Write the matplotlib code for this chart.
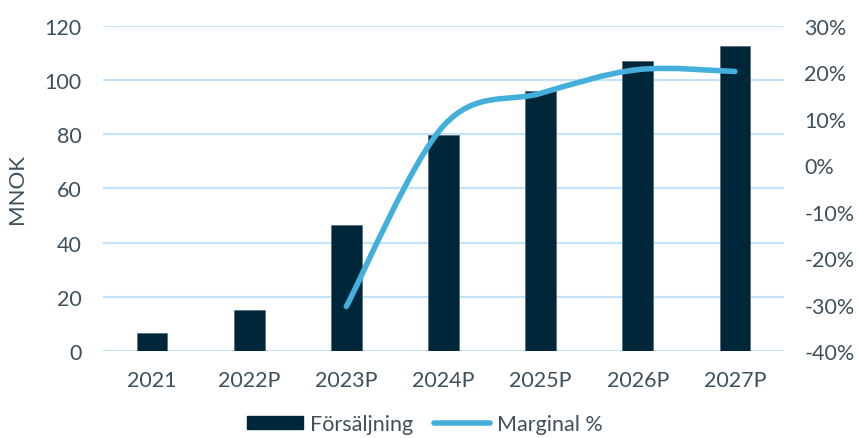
import numpy as np
import matplotlib.pyplot as plt
from matplotlib.path import Path
from matplotlib.patches import PathPatch
from matplotlib.lines import Line2D
from matplotlib.patches import Patch

plt.rcParams['font.family'] = ['Lato', 'DejaVu Sans']

years = ['2021', '2022P', '2023P', '2024P', '2025P', '2026P', '2027P']
sales = [6.6, 15.2, 46.6, 79.8, 95.9, 107.2, 112.7]
margin_years = ['2023P', '2024P', '2025P', '2026P', '2027P']
margin = [-30.4, 8.5, 15.5, 20.6, 20.2]

navy = '#00263a'
blue = '#45afdc'
grid = '#c3e4f6'
txt = '#3e505c'

fig = plt.figure(figsize=(8.58, 4.39), dpi=100)
ax = fig.add_axes([0.1206, 0.1982, 0.7926, 0.7403])
ax2 = ax.twinx()

x = np.arange(len(years))
ax.bar(x, sales, width=0.315, color=navy, edgecolor='#5a6f7c', linewidth=0.6, zorder=3)
ax.set_xlim(-0.5, len(years) - 0.5)
ax.set_ylim(0, 120)
ax.set_yticks(range(0, 121, 20))
ax.set_xticks(x)
ax.set_xticklabels(years)
ax.yaxis.grid(True, color=grid, linewidth=1.6, zorder=0)
ax.set_axisbelow(True)
ax.set_ylabel('MNOK', fontsize=16, color=txt, labelpad=12)

# smoothed line (Catmull-Rom as bezier, like Excel's smoothing)
mx = np.array([years.index(y) for y in margin_years], dtype=float)
my = np.array(margin, dtype=float)
pts = np.column_stack([mx, my])
ext = np.vstack([pts[0], pts, pts[-1]])
verts = [pts[0]]
codes = [Path.MOVETO]
for i in range(1, len(ext) - 2):
    p0, p1, p2, p3 = ext[i - 1], ext[i], ext[i + 1], ext[i + 2]
    verts += [p1 + (p2 - p0) / 6, p2 - (p3 - p1) / 6, p2]
    codes += [Path.CURVE4] * 3
ax2.add_patch(PathPatch(Path(verts, codes), facecolor='none', edgecolor=blue,
                        linewidth=4, capstyle='round', zorder=4))
ax2.set_ylim(-40, 30)
ax2.set_yticks(range(-40, 31, 10))
ax2.set_yticklabels([f'{v}%' for v in range(-40, 31, 10)])

for a in (ax, ax2):
    for s in a.spines.values():
        s.set_visible(False)
    a.tick_params(length=0, labelsize=15.5, colors=txt)
ax.tick_params(axis='x', pad=14)
ax.tick_params(axis='y', pad=16)
ax2.tick_params(axis='y', pad=15)

handles = [Patch(facecolor=navy, edgecolor=navy),
           Line2D([0], [0], color=blue, linewidth=4, solid_capstyle='round')]
fig.legend(handles, ['Försäljning', 'Marginal %'], loc='center',
           bbox_to_anchor=(0.495, 0.032), ncol=2, frameon=False,
           fontsize=15.5, handlelength=2.6, handleheight=0.55,
           columnspacing=1.0, handletextpad=0.3, labelcolor=txt)

fig.savefig('out.png', dpi=100)
